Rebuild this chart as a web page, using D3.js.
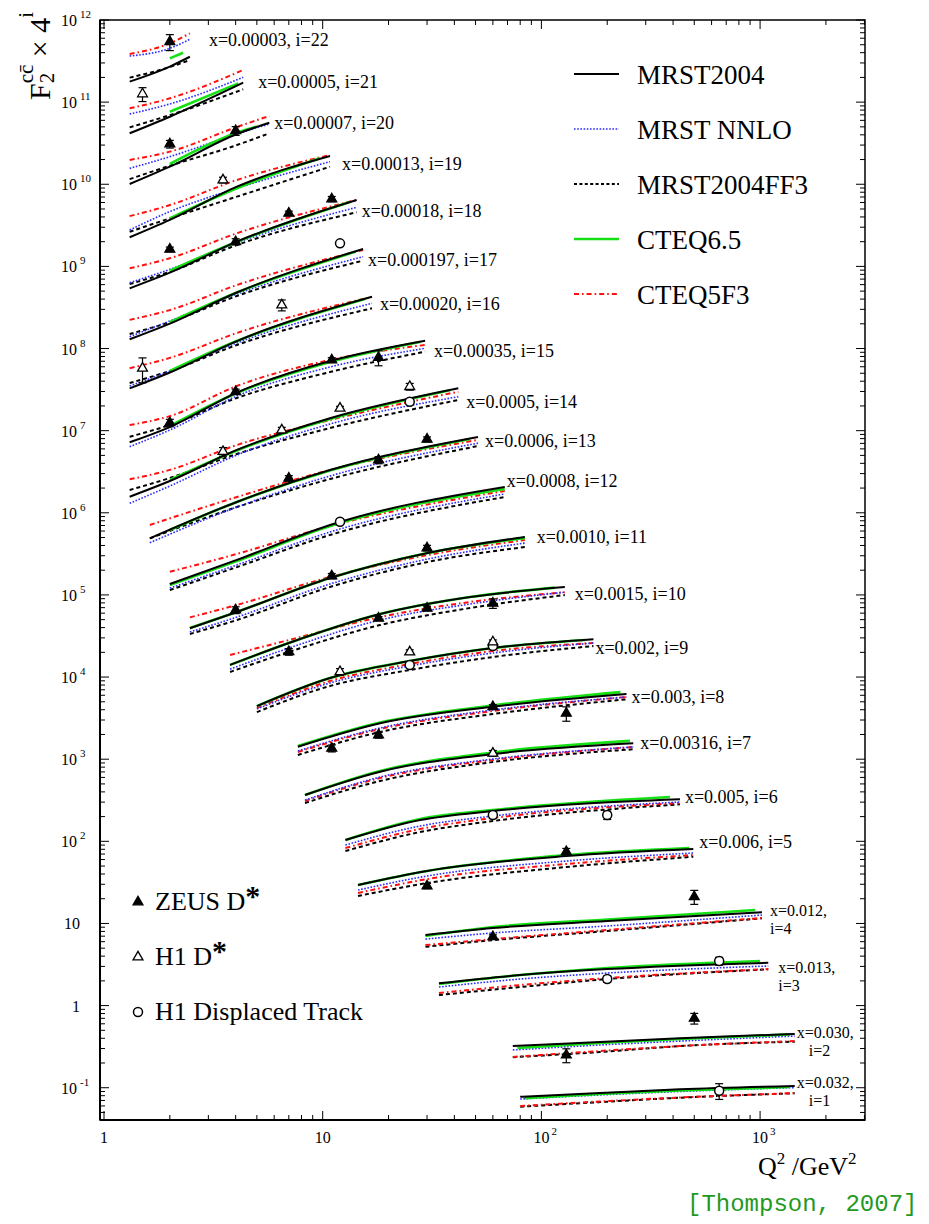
<!DOCTYPE html>
<html>
<head>
<meta charset="utf-8">
<script src="https://d3js.org/d3.v7.min.js"></script>
<style>
body { margin: 0; background: #fff; }
svg text { font-family: "Liberation Serif", "Times New Roman", serif; fill: #000; }
</style>
</head>
<body>
<div id="chart"></div>
<script>
// ---- data: bins i = 1 .. 22 (array index i-1), F2 charm values (plotted as F2 x 4^i)
var binX = ["0.032", "0.030", "0.013", "0.012", "0.006", "0.005", "0.00316", "0.003", "0.002", "0.0015", "0.0010",
    "0.0008", "0.0006", "0.0005", "0.00035", "0.00020", "0.000197", "0.00018", "0.00013", "0.00007", "0.00005", "0.00003"];

// Q2 nodes for MRST2004, MRST NNLO, MRST2004FF3, CTEQ5F3
var q2Nodes = [
    [80, 185, 430, 1440], [74, 185, 430, 1440], [34, 80, 200, 1090], [29.5, 60, 200, 1020],
    [14.5, 30, 130, 495], [12.7, 27.9, 60, 430], [8.3, 18.3, 60, 263], [7.7, 18.3, 60, 245],
    [5.0, 10.8, 25, 60, 173], [3.77, 7.0, 18.3, 47.2, 128], [2.47, 4.05, 10.8, 30.2, 84],
    [2.0, 4.05, 10.8, 68], [1.62, 4.05, 10.8, 51.3], [1.31, 2.0, 4.05, 10.8, 41.7],
    [1.31, 2.0, 4.05, 10.8, 29.4], [1.31, 2.0, 4.05, 16.8], [1.31, 2.0, 4.05, 15.3],
    [1.31, 2.0, 4.05, 14.3], [1.31, 2.0, 4.05, 10.8], [1.31, 2.0, 4.05, 5.7],
    [1.31, 2.0, 4.33], [1.31, 2.0, 2.47]
];
// Q2 nodes for CTEQ6.5
var cteqNodes = [
    [84, 185, 430, 1370], [77.7, 185, 430, 1370], [34, 80, 200, 1000], [29.5, 60, 200, 950],
    [14.5, 30, 130, 473], [12.7, 27.9, 60, 387], [8.3, 18.3, 60, 254], [7.7, 18.3, 60, 230],
    [5.0, 10.8, 25, 60, 158], [3.77, 7.0, 18.3, 47.2, 115], [2.47, 4.05, 10.8, 30.2, 84],
    [2.0, 4.05, 10.8, 68], [2.0, 4.05, 10.8, 47.2], [2.0, 4.05, 10.8, 38.2],
    [2.0, 4.05, 10.8, 27.9], [2.0, 4.05, 15.6], [2.0, 4.05, 14.0], [2.0, 4.05, 13.3],
    [2.0, 4.05, 9.7], [2.0, 4.05, 5.0], [2.0, 4.11], [2.0, 2.3]
];

var mrst2004 = [
    [0.0194, 0.0215, 0.0239, 0.0262], [0.0201, 0.0225, 0.0250, 0.0282], [0.0292, 0.0368, 0.0435, 0.0519],
    [0.0282, 0.0344, 0.0418, 0.0534], [0.0287, 0.0425, 0.0647, 0.0787], [0.0253, 0.0443, 0.0571, 0.0793],
    [0.0224, 0.0430, 0.0705, 0.0952], [0.0216, 0.0417, 0.0664, 0.0948], [0.0169, 0.0371, 0.0598, 0.0861, 0.110],
    [0.0134, 0.0248, 0.0558, 0.0899, 0.119], [0.00935, 0.0148, 0.0383, 0.0772, 0.121], [0.00809, 0.0159, 0.0423, 0.123],
    [0.00728, 0.0202, 0.0494, 0.125], [0.00585, 0.00908, 0.0217, 0.0527, 0.122], [0.00672, 0.0103, 0.0271, 0.0656, 0.116],
    [0.00763, 0.0119, 0.0287, 0.0995], [0.00754, 0.0117, 0.0280, 0.0948], [0.00787, 0.0122, 0.0291, 0.0936],
    [0.00823, 0.0134, 0.0340, 0.0804], [0.00916, 0.0149, 0.0372, 0.0511], [0.00949, 0.0151, 0.0392],
    [0.0101, 0.0154, 0.0203]
];
var mrstNnlo = [
    [0.0182, 0.0204, 0.0225, 0.0251], [0.0180, 0.0207, 0.0231, 0.0266], [0.0263, 0.0329, 0.0389, 0.0474],
    [0.0252, 0.0299, 0.0364, 0.0495], [0.0249, 0.0369, 0.0562, 0.0703], [0.0220, 0.0375, 0.0496, 0.0735],
    [0.0194, 0.0370, 0.0613, 0.0859], [0.0192, 0.0366, 0.0606, 0.0872], [0.0156, 0.0323, 0.0520, 0.0749, 0.0991],
    [0.0119, 0.0215, 0.0472, 0.0739, 0.103], [0.00843, 0.0128, 0.0324, 0.0652, 0.102], [0.00723, 0.0138, 0.0348, 0.101],
    [0.00644, 0.0175, 0.0418, 0.105], [0.00486, 0.00789, 0.0188, 0.0449, 0.0965], [0.00594, 0.00948, 0.0246, 0.0555, 0.0937],
    [0.00814, 0.0124, 0.0272, 0.0827], [0.00811, 0.0126, 0.0268, 0.0764], [0.00921, 0.0134, 0.0283, 0.0763],
    [0.0101, 0.0169, 0.0325, 0.0685], [0.0142, 0.0197, 0.0372, 0.0493], [0.0163, 0.0216, 0.0456],
    [0.0207, 0.0257, 0.0331]
];
var mrstFF3 = [
    [0.0147, 0.0167, 0.0189, 0.0214], [0.0147, 0.0170, 0.0201, 0.0227], [0.0210, 0.0263, 0.0329, 0.0432],
    [0.0203, 0.0245, 0.0316, 0.0451], [0.0211, 0.0303, 0.0475, 0.0634], [0.0186, 0.0317, 0.0431, 0.0689],
    [0.0179, 0.0331, 0.0564, 0.0805], [0.0172, 0.0327, 0.0541, 0.0818], [0.0143, 0.0297, 0.0465, 0.0669, 0.0911],
    [0.0110, 0.0193, 0.0410, 0.0661, 0.0951], [0.00797, 0.0118, 0.0298, 0.0600, 0.0913], [0.00684, 0.0130, 0.0320, 0.0928],
    [0.00728, 0.0175, 0.0384, 0.0969], [0.00706, 0.00988, 0.0194, 0.0401, 0.0880], [0.00786, 0.0109, 0.0233, 0.0482, 0.0852],
    [0.00886, 0.0124, 0.0257, 0.0719], [0.00875, 0.0122, 0.0254, 0.0683], [0.00888, 0.0125, 0.0265, 0.0663],
    [0.00962, 0.0140, 0.0257, 0.0595], [0.0105, 0.0153, 0.0273, 0.0380], [0.0112, 0.0158, 0.0326],
    [0.0113, 0.0152, 0.0185]
];
var cteq65 = [
    [0.0187, 0.0210, 0.0231, 0.0255], [0.0190, 0.0219, 0.0245, 0.0278], [0.0286, 0.0368, 0.0448, 0.0545],
    [0.0275, 0.0353, 0.0436, 0.0569], [0.0287, 0.0425, 0.0665, 0.0809], [0.0253, 0.0456, 0.0587, 0.0845],
    [0.0224, 0.0438, 0.0736, 0.102], [0.0221, 0.0427, 0.0687, 0.100], [0.0169, 0.0371, 0.0598, 0.0861, 0.108],
    [0.0134, 0.0248, 0.0558, 0.0899, 0.117], [0.00943, 0.0148, 0.0383, 0.0772, 0.118], [0.00787, 0.0154, 0.0411, 0.116],
    [0.00919, 0.0202, 0.0487, 0.118], [0.00934, 0.0214, 0.0516, 0.116], [0.0106, 0.0268, 0.0638, 0.112],
    [0.0124, 0.0287, 0.0933], [0.0122, 0.0280, 0.0871], [0.0129, 0.0291, 0.0885],
    [0.0140, 0.0325, 0.0753], [0.0161, 0.0386, 0.0457], [0.0174, 0.0385],
    [0.0194, 0.0227]
];
var cteq5f3 = [
    [0.0150, 0.0170, 0.0190, 0.0215], [0.0148, 0.0175, 0.0201, 0.0231], [0.0222, 0.0278, 0.0338, 0.0435],
    [0.0213, 0.0252, 0.0325, 0.0455], [0.0229, 0.0339, 0.0517, 0.0665], [0.0202, 0.0345, 0.0469, 0.0714],
    [0.0189, 0.0360, 0.0597, 0.0859], [0.0187, 0.0356, 0.0589, 0.0872], [0.0160, 0.0341, 0.0550, 0.0792, 0.0991],
    [0.0177, 0.0269, 0.0513, 0.0782, 0.103], [0.0127, 0.0180, 0.0394, 0.0730, 0.111], [0.0114, 0.0188, 0.0411, 0.110],
    [0.0106, 0.0232, 0.0494, 0.115], [0.00952, 0.0124, 0.0249, 0.0502, 0.111], [0.0109, 0.0140, 0.0326, 0.0675, 0.103],
    [0.0134, 0.0179, 0.0360, 0.0987], [0.0130, 0.0171, 0.0345, 0.0922], [0.0138, 0.0183, 0.0368, 0.0936],
    [0.0149, 0.0203, 0.0410, 0.0826], [0.0180, 0.0227, 0.0453, 0.0617], [0.0191, 0.0253, 0.0560],
    [0.0219, 0.0296, 0.0391]
];

// measurements: [i, Q2, F2, error]
var zeusDstar = [
    [22, 2, 0.0309, 0.0068], [20, 2, 0.0281, 0.003], [20, 4, 0.0408, 0.005],
    [18, 2, 0.0235, 0.0015], [18, 4, 0.0291, 0.0025], [18, 7, 0.0645, 0.004], [18, 11, 0.0963, 0.007],
    [15, 2, 0.0116, 0.0012], [15, 4, 0.0278, 0.002], [15, 11, 0.0675, 0.0045], [15, 18, 0.0724, 0.015],
    [13, 7, 0.0392, 0.003], [13, 18, 0.0654, 0.0065], [13, 30, 0.117, 0.008],
    [11, 4, 0.0156, 0.0015], [11, 11, 0.0405, 0.003], [11, 30, 0.0888, 0.007],
    [10, 7, 0.0194, 0.0018], [10, 18, 0.0495, 0.0025], [10, 30, 0.0655, 0.004], [10, 60, 0.0754, 0.010],
    [8, 11, 0.0207, 0.002], [8, 18, 0.0300, 0.0025], [8, 60, 0.0664, 0.004], [8, 130, 0.0552, 0.011],
    [5, 30, 0.0279, 0.002], [5, 130, 0.0730, 0.007],
    [4, 60, 0.0269, 0.0015], [4, 500, 0.0827, 0.016],
    [2, 130, 0.0156, 0.003], [2, 500, 0.0437, 0.0065]
];
var h1Dstar = [
    [21, 1.5, 0.0286, 0.0055], [19, 3.5, 0.0410, 0.0033], [16, 1.5, 0.0134, 0.0045], [16, 6.5, 0.0789, 0.012],
    [14, 3.5, 0.0207, 0.0025], [14, 6.5, 0.0379, 0.003], [14, 12, 0.0697, 0.004], [14, 25, 0.128, 0.012],
    [9, 12, 0.0443, 0.004], [9, 25, 0.0770, 0.005], [9, 60, 0.102, 0.006], [7, 60, 0.0719, 0.006]
];
var h1Displaced = [
    [17, 12, 0.111, 0.008], [14, 25, 0.0839, 0.004], [12, 12, 0.0464, 0.003],
    [9, 25, 0.0535, 0.002], [9, 60, 0.0911, 0.004], [6, 60, 0.0510, 0.004], [6, 200, 0.0510, 0.006],
    [3, 200, 0.0329, 0.003], [3, 650, 0.0545, 0.006], [1, 650, 0.0230, 0.005]
];

var modelNames = ["MRST2004", "MRST NNLO", "MRST2004FF3", "CTEQ6.5", "CTEQ5F3"];
var xTickLabels = [1, 10, 100, 1000];

// ---- layout
var svgWidth = 929;
var svgHeight = 1224;
var margin = { top: 20, right: 64, left: 100, bottom: 104 };
var width = svgWidth - margin.left - margin.right;
var height = svgHeight - margin.top - margin.bottom;

// label nudges from the end of the MRST2004 curve (layout only)
var labelNudge = [[2, 2], [2, 4], [10, 10], [8, 4], [6, -1], [5, 4], [7, 6], [5, 9], [2, 15], [10, 13], [12, 6],
    [2, 0], [7, 10], [8, 20], [9, 16], [8, 13], [5, 17], [5, 17], [12, 14], [5, 6], [15, 5], [19, -11]];

var styles = [
    { color: "#000", w: 2, dash: null },
    { color: "#2b2bff", w: 1.6, dash: "1.6,1.6" },
    { color: "#000", w: 2, dash: "4,3" },
    { color: "#14e014", w: 2.6, dash: null },
    { color: "#ff1010", w: 2, dash: "5,3,1.6,3" }
];

var svg = d3.select("#chart").append("svg").attr("width", svgWidth).attr("height", svgHeight);
var chartGroup = svg.append("g")
    .attr("transform", `translate(${margin.left}, ${margin.top})`);

var xScale = d3.scaleLog().domain([Math.pow(10, -0.0183), Math.pow(10, 3.4797)]).range([0, width]);
var yScale = d3.scaleLog().domain([Math.pow(10, -1.393), 1e12]).range([height, 0]);

function scaled(v, i) { return v * Math.pow(4, i); }

// ---- ticks
var xTicks = [];
for (var e = 0; e <= 3; e++) {
    for (var m = 1; m <= 9; m++) {
        var v = m * Math.pow(10, e);
        if (v <= xScale.domain()[1]) xTicks.push({ v: v, major: m === 1 });
    }
}
var yTicks = [];
for (var e2 = -2; e2 <= 11; e2++) {
    for (var m2 = 1; m2 <= 9; m2++) {
        var v2 = m2 * Math.pow(10, e2);
        if (v2 >= yScale.domain()[0]) yTicks.push({ v: v2, major: m2 === 1 });
    }
}
yTicks.push({ v: 1e12, major: true });

var tickG = chartGroup.append("g").attr("stroke", "#000").attr("stroke-width", 1);
xTicks.forEach(function (t) {
    var x = xScale(t.v), len = t.major ? 9 : 5;
    tickG.append("line").attr("x1", x).attr("x2", x).attr("y1", height).attr("y2", height - len);
    tickG.append("line").attr("x1", x).attr("x2", x).attr("y1", 0).attr("y2", len);
});
yTicks.forEach(function (t) {
    var y = yScale(t.v), len = t.major ? 9 : 5;
    tickG.append("line").attr("x1", 0).attr("x2", len).attr("y1", y).attr("y2", y);
    tickG.append("line").attr("x1", width).attr("x2", width - len).attr("y1", y).attr("y2", y);
});

chartGroup.append("rect").attr("width", width).attr("height", height)
    .attr("fill", "none").attr("stroke", "#000").attr("stroke-width", 1.5);
chartGroup.append("line").attr("x1", 0).attr("x2", 0).attr("y1", 0).attr("y2", height)
    .attr("stroke", "#000").attr("stroke-width", 2);
chartGroup.append("line").attr("x1", 0).attr("x2", width).attr("y1", height).attr("y2", height)
    .attr("stroke", "#000").attr("stroke-width", 2);

// x tick labels
xTickLabels.forEach(function (v) {
    var x = xScale(v);
    if (v < 100) {
        chartGroup.append("text").attr("x", x).attr("y", height + 23).attr("text-anchor", "middle")
            .style("font-size", "16px").text(v);
    } else {
        chartGroup.append("text").attr("x", x + 8).attr("y", height + 23).attr("text-anchor", "end")
            .style("font-size", "16px").text("10");
        chartGroup.append("text").attr("x", x + 10).attr("y", height + 15)
            .style("font-size", "11px").text(Math.round(Math.log10(v)));
    }
});
// y tick labels
for (var p = -1; p <= 12; p++) {
    var y = yScale(Math.pow(10, p));
    if (p === 0 || p === 1) {
        chartGroup.append("text").attr("x", -20).attr("y", y + 6).attr("text-anchor", "end")
            .style("font-size", "16px").text(p === 0 ? "1" : "10");
    } else {
        chartGroup.append("text").attr("x", -23).attr("y", y + 6).attr("text-anchor", "end")
            .style("font-size", "16px").text("10");
        chartGroup.append("text").attr("x", -20).attr("y", y - 2)
            .style("font-size", "11px").text(p);
    }
}

// ---- curves
var line = d3.line()
    .x(d => xScale(d[0]))
    .y(d => yScale(d[1]))
    .curve(d3.curveMonotoneX);

var modelData = [mrst2004, mrstNnlo, mrstFF3, cteq65, cteq5f3];
var drawOrder = [2, 4, 1, 3, 0];
var curveG = chartGroup.append("g").attr("fill", "none");
for (var b = 0; b < 22; b++) {
    var i = b + 1;
    drawOrder.forEach(function (k) {
        var nodes = k === 3 ? cteqNodes[b] : q2Nodes[b];
        var pts = nodes.map((q, n) => [q, scaled(modelData[k][b][n], i)]);
        curveG.append("path").attr("d", line(pts))
            .attr("stroke", styles[k].color).attr("stroke-width", styles[k].w)
            .attr("stroke-dasharray", styles[k].dash);
    });
}

// ---- bin labels
for (var b2 = 0; b2 < 22; b2++) {
    var ii = b2 + 1;
    var nodes2 = q2Nodes[b2];
    var lx = xScale(nodes2[nodes2.length - 1]) + labelNudge[b2][0];
    var ly = yScale(scaled(mrst2004[b2][nodes2.length - 1], ii)) + labelNudge[b2][1];
    if (ii > 4) {
        chartGroup.append("text").attr("x", lx).attr("y", ly).style("font-size", "18px")
            .text("x=" + binX[b2] + ", i=" + ii);
    } else {
        chartGroup.append("text").attr("x", lx).attr("y", ly).style("font-size", "16px")
            .text("x=" + binX[b2] + ",");
        chartGroup.append("text").attr("x", lx + (ii <= 2 ? 12 : 0)).attr("y", ly + 18)
            .style("font-size", "16px").text("i=" + ii);
    }
}

// ---- measurements
var pointG = chartGroup.append("g");
function drawMarker(g, kind, x, y) {
    if (kind === "circle") {
        g.append("circle").attr("cx", x).attr("cy", y).attr("r", 4.5)
            .attr("fill", "#fff").attr("stroke", "#000").attr("stroke-width", 1.5);
    } else {
        g.append("path").attr("d", d3.symbol(d3.symbolTriangle).size(42)())
            .attr("transform", `translate(${x},${y})`)
            .attr("fill", kind === "filled" ? "#000" : "#fff")
            .attr("stroke", "#000").attr("stroke-width", 1.3);
    }
}
function drawPoints(data, kind) {
    data.forEach(function (d) {
        var x = xScale(d[1]);
        var y = yScale(scaled(d[2], d[0]));
        var y1 = yScale(scaled(d[2] + d[3], d[0]));
        var y2 = yScale(scaled(Math.max(d[2] - d[3], 1e-4), d[0]));
        pointG.append("line").attr("x1", x).attr("x2", x).attr("y1", y1).attr("y2", y2)
            .attr("stroke", "#000").attr("stroke-width", 1.2);
        [y1, y2].forEach(function (yy) {
            pointG.append("line").attr("x1", x - 4).attr("x2", x + 4).attr("y1", yy).attr("y2", yy)
                .attr("stroke", "#000").attr("stroke-width", 1.2);
        });
        drawMarker(pointG, kind, x, y);
    });
}
drawPoints(h1Displaced, "circle");
drawPoints(h1Dstar, "open");
drawPoints(zeusDstar, "filled");

// ---- legends
var legG = svg.append("g");
modelNames.forEach(function (name, k) {
    var by = 84 + k * 55;
    legG.append("line").attr("x1", 574).attr("x2", 619).attr("y1", by - 10).attr("y2", by - 10)
        .attr("stroke", styles[k].color).attr("stroke-width", styles[k].w)
        .attr("stroke-dasharray", k === 2 ? "3,2.4" : styles[k].dash);
    legG.append("text").attr("x", 637).attr("y", by).style("font-size", "27px").text(name);
});

var markerLegend = [["filled", "ZEUS D", true], ["open", "H1 D", true], ["circle", "H1 Displaced Track", false]];
markerLegend.forEach(function (m, k) {
    var by = 910 + k * 55;
    drawMarker(legG, m[0], 138, by - 8);
    var t = legG.append("text").attr("x", 155).attr("y", by).style("font-size", "26px").text(m[1]);
    if (m[2]) t.append("tspan").attr("dy", -4).style("font-size", "30px").style("font-weight", "bold").text("*");
});

// ---- axis titles
var yTitle = svg.append("text").attr("transform", "translate(50,100) rotate(-90)").style("font-size", "30px");
yTitle.append("tspan").text("F");
yTitle.append("tspan").attr("dy", 4).style("font-size", "21px").text("2");
yTitle.append("tspan").attr("dx", -10.5).attr("dy", -21).style("font-size", "21px").text("c\u0063\u0304");
yTitle.append("tspan").attr("dy", 17).text(" \u00d7 4");
yTitle.append("tspan").attr("dy", -17).style("font-size", "21px").text("i");

var xTitle = svg.append("text").attr("x", 758).attr("y", 1175).style("font-size", "26px");
xTitle.append("tspan").text("Q");
xTitle.append("tspan").attr("dy", -11).style("font-size", "17px").text("2");
xTitle.append("tspan").attr("dy", 11).text(" /GeV");
xTitle.append("tspan").attr("dy", -11).style("font-size", "17px").text("2");

svg.append("text").attr("x", 687).attr("y", 1211)
    .style("font-family", "'Liberation Mono', 'DejaVu Sans Mono', monospace")
    .style("font-size", "24px").style("fill", "#1f9a1f").text("[Thompson, 2007]");
</script>
</body>
</html>
